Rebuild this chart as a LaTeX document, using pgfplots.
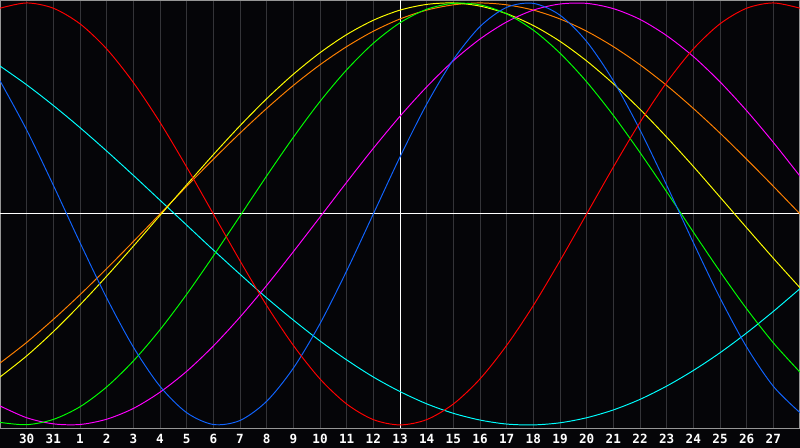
\documentclass[border=0pt]{standalone}
\usepackage{fontspec}
\setmonofont{DejaVu Sans Mono}
\usepackage{pgfplots}
\usepackage{pgfplotstable}
\pgfplotsset{compat=1.18}

\definecolor{bg}{RGB}{5,5,8}
\definecolor{gridc}{RGB}{52,52,56}
\definecolor{framec}{RGB}{150,150,150}
\definecolor{cred}{RGB}{255,0,0}
\definecolor{cblue}{RGB}{16,100,255}
\definecolor{cgreen}{RGB}{0,255,0}
\definecolor{cmag}{RGB}{255,0,255}
\definecolor{cyel}{RGB}{255,255,0}
\definecolor{corange}{RGB}{255,128,0}
\definecolor{ccyan}{RGB}{0,255,255}

% day index 0..30, cycle values
\pgfplotstableread{
t  red     blue    green   mag     yel     orange  cyan
0  0.975   0.631  -0.988  -0.910  -0.773  -0.707   0.701
1  1.000   0.398  -0.999  -0.966  -0.673  -0.609   0.612
2  0.975   0.136  -0.974  -0.995  -0.558  -0.500   0.514
3  0.901  -0.136  -0.914  -0.998  -0.431  -0.383   0.409
4  0.782  -0.398  -0.820  -0.973  -0.295  -0.259   0.298
5  0.623  -0.631  -0.697  -0.922  -0.153  -0.131   0.183
6  0.434  -0.817  -0.549  -0.845  -0.007   0.000   0.065
7  0.222  -0.942  -0.381  -0.746   0.138   0.131  -0.053
8  0.000  -0.998  -0.199  -0.626   0.281   0.259  -0.171
9 -0.222  -0.979  -0.010  -0.489   0.418   0.383  -0.286
10 -0.434 -0.888   0.180  -0.339   0.546   0.500  -0.398
11 -0.623 -0.731   0.363  -0.179   0.662   0.609  -0.503
12 -0.782 -0.520   0.533  -0.015   0.764   0.707  -0.602
13 -0.901 -0.270   0.683   0.150   0.850   0.793  -0.692
14 -0.975  0.000   0.809   0.311   0.918   0.866  -0.773
15 -1.000  0.270   0.906   0.463   0.966   0.924  -0.842
16 -0.975  0.520   0.970   0.602   0.993   0.966  -0.900
17 -0.901  0.731   0.998   0.726   1.000   0.991  -0.945
18 -0.782  0.888   0.991   0.829   0.985   1.000  -0.977
19 -0.623  0.979   0.948   0.910   0.949   0.991  -0.996
20 -0.434  0.998   0.871   0.966   0.893   0.966  -1.000
21 -0.222  0.942   0.762   0.995   0.818   0.924  -0.990
22  0.000  0.817   0.626   0.998   0.725   0.866  -0.966
23  0.222  0.631   0.467   0.973   0.617   0.793  -0.929
24  0.434  0.398   0.291   0.922   0.496   0.707  -0.879
25  0.623  0.136   0.105   0.845   0.364   0.609  -0.816
26  0.782 -0.136  -0.086   0.746   0.225   0.500  -0.742
27  0.901 -0.398  -0.273   0.626   0.080   0.383  -0.658
28  0.975 -0.631  -0.450   0.489  -0.066   0.259  -0.564
29  1.000 -0.817  -0.611   0.339  -0.210   0.131  -0.462
30  0.975 -0.942  -0.750   0.179  -0.350   0.000  -0.354
}\bio

\begin{document}
\begin{tikzpicture}
\useasboundingbox (0,-0.39) rectangle (16,8.57);
\fill[bg] (0,-0.39) rectangle (16,8.57);
\begin{axis}[
    scale only axis, width=16cm, height=8.57cm,
    xmin=0, xmax=30, ymin=-1.017, ymax=1.014,
    axis line style={framec, line width=0.6pt},
    xtick={1,...,29},
    xticklabels={30,31,1,2,3,4,5,6,7,8,9,10,11,12,13,14,15,16,17,18,19,20,21,22,23,24,25,26,27},
    ytick=\empty, major tick length=0pt,
    xmajorgrids, grid style={gridc, line width=0.55pt},
    xticklabel style={anchor=center, yshift=-0.205cm, text=white,
        font=\ttfamily\bfseries\fontsize{7.2}{8}\selectfont},
    every axis plot/.append style={line width=0.55pt, smooth, no markers},
]
\addplot[white, line width=0.55pt, sharp plot] coordinates {(0,0) (30,0)};
\addplot[white, line width=0.55pt, sharp plot] coordinates {(15,-1.017) (15,1.014)};
\addplot[ccyan]   table[x=t, y=cyan]   {\bio};
\addplot[corange] table[x=t, y=orange] {\bio};
\addplot[cyel]    table[x=t, y=yel]    {\bio};
\addplot[cmag]    table[x=t, y=mag]    {\bio};
\addplot[cgreen]  table[x=t, y=green]  {\bio};
\addplot[cblue]   table[x=t, y=blue]   {\bio};
\addplot[cred]    table[x=t, y=red]    {\bio};
\end{axis}
\end{tikzpicture}
\end{document}
